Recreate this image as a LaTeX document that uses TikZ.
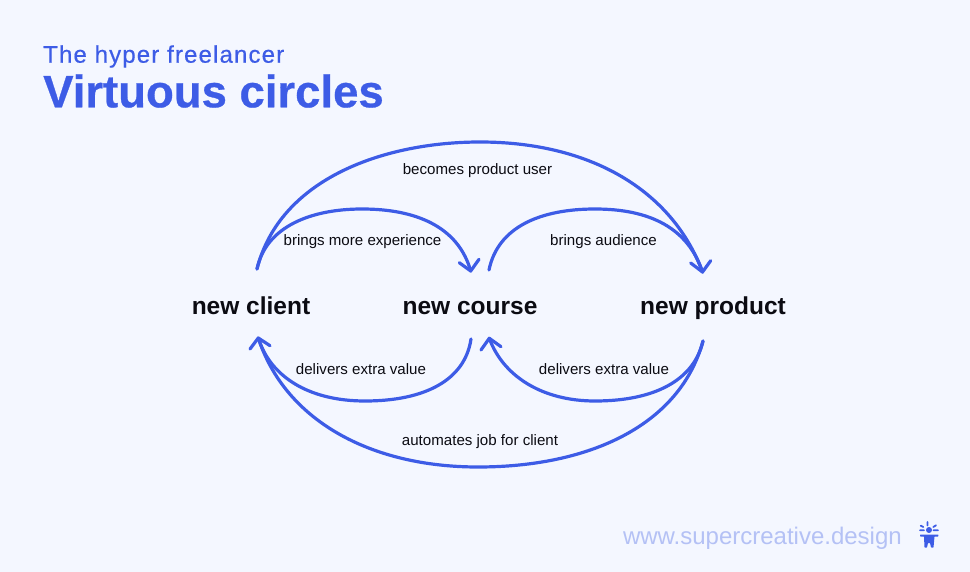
\documentclass[tikz,border=0pt]{standalone}
\usepackage{fontspec}
\setmainfont{Liberation Sans}
\newfontfamily\subfont[FakeBold=0.5,LetterSpace=4.8]{Liberation Sans}
\newfontfamily\titlefont[FakeBold=0.6]{Liberation Sans Bold}
\definecolor{bgc}{HTML}{F4F7FF}
\definecolor{bluec}{HTML}{3D5CE6}
\definecolor{lightc}{HTML}{B4C1F5}
\definecolor{inkc}{HTML}{0B0B12}
\tikzset{
  x=1pt,y=-1pt,
  term/.style={font=\fontsize{24.5}{28}\selectfont\bfseries,text=inkc,inner sep=0pt,anchor=base},
  lab/.style={font=\fontsize{15.1}{17}\selectfont,text=inkc,inner sep=0pt,anchor=base},
  link/.style={draw=bluec,line width=3.2pt,line cap=round,line join=round},
}
\begin{document}
\begin{tikzpicture}
\useasboundingbox (0,0) rectangle (970,572);
\fill[bgc] (0,0) rectangle (970,572);
\node[inner sep=0pt,anchor=base west,text=bluec,font=\fontsize{24}{28}\selectfont\subfont] (sub) at (43,62.7) {The hyper freelancer};
\node[inner sep=0pt,anchor=base west,text=bluec,font=\fontsize{45.5}{50}\selectfont\titlefont] (ttl) at (43,107.3) {Virtuous circles};
\node[term] (client) at (251,314.8) {new client};
\node[term] (course) at (470,314.8) {new course};
\node[term] (product) at (713,314.8) {new product};
\coordinate (c1) at (257,269);
\coordinate (c2) at (258.3,338);
\coordinate (m1) at (470.7,271);
\coordinate (m2) at (489,270);
\coordinate (m3) at (471,339);
\coordinate (m4) at (489.3,338.3);
\coordinate (p1) at (702.5,272);
\coordinate (p2) at (703,341);
\draw[link] (c1) .. controls (280,178) and (385,142) .. (480,142) .. controls (590,142) and (672,190) .. (p1);
\draw[link] (c1) .. controls (266,226) and (312,209) .. (362,209) .. controls (415,209) and (458,226) .. (m1);
\draw[link] (m2) .. controls (498,226) and (542,209) .. (595,209) .. controls (650,209) and (688,228) .. (p1);
\draw[link] (m3) .. controls (465,380) and (425,401) .. (365,401) .. controls (308,401) and (270,376) .. (c2);
\draw[link] (p2) .. controls (694,380) and (655,401) .. (595,401) .. controls (542,401) and (503,376) .. (m4);
\draw[link] (p2) .. controls (680,425) and (590,467) .. (478,467) .. controls (370,467) and (285,420) .. (c2);
% arrowheads
\draw[link] (m1) ++(-11.4,-8.3) -- (m1) -- ++(8.3,-11.7);
\draw[link] (p1) ++(-11.8,-9) -- (p1) -- ++(8.2,-11.3);
\draw[link] (c2) ++(-8.3,11) -- (c2) -- ++(11.7,7.7);
\draw[link] (m4) ++(-8.3,11.7) -- (m4) -- ++(11.7,8.4);
\node[lab] (l1) at (477.5,174.8) {becomes product user};
\node[lab] (l2) at (362.5,245.4) {brings more experience};
\node[lab] (l3) at (603.5,245.4) {brings audience};
\node[lab] (l4) at (361,374.4) {delivers extra value};
\node[lab] (l5) at (604,374) {delivers extra value};
\node[lab] (l6) at (480,445.2) {automates job for client};
\node[inner sep=0pt,anchor=base east,text=lightc,font=\fontsize{24}{28}\selectfont] (web) at (902,544.5) {www.supercreative.design};
% logo
\begin{scope}[bluec]
\fill (929,530) circle (3);
\draw[line width=1.8pt,line cap=round] (927.5,522)--(927.5,525.5) (920.7,525.7)--(923.3,527) (933.3,527)--(936,525.3) (920,530.3)--(924,530.3) (933.5,530.3)--(938,530.3);
\fill[rounded corners=.5pt] (920,534.5) -- (938.3,534.5) -- (938.3,536.5) -- (934.5,536.5) -- (933.5,547.5) -- (931,547.5) -- (930,543) -- (928,543) -- (927,547.5) -- (924.5,547.5) -- (924,536.5) -- (920,536.5) -- cycle;
\end{scope}
\end{tikzpicture}
\end{document}
